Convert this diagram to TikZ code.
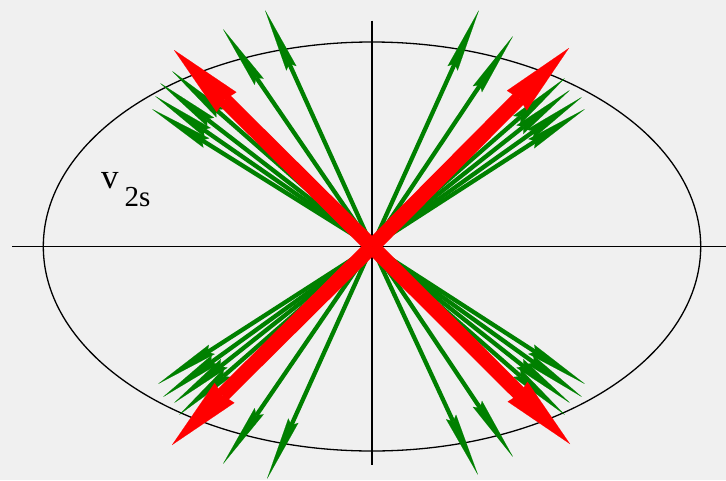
\documentclass[tikz,border=0pt]{standalone}
\usepackage{fontspec}
\setmainfont{Liberation Serif}
\usetikzlibrary{arrows.meta}
\definecolor{bgc}{RGB}{240,240,240}
\definecolor{grn}{RGB}{0,128,0}
\definecolor{rd}{RGB}{255,0,0}
\tikzset{
  axisline/.style={draw=black, line width=1.2pt},
  ellline/.style={draw=black, line width=1.3pt},
  greenarrow/.style={draw=grn, line width=4.3pt,
    -{Stealth[length=64pt, width=11pt, inset=5pt, line width=0.1pt]}},
  redarrow/.style={draw=rd, line width=15pt,
    -{Stealth[length=74pt, width=28pt, inset=3pt, line width=0.1pt]}},
}
\begin{document}
\begin{tikzpicture}[x=1pt, y=-1pt]
  \fill[bgc] (0,0) rectangle (726,480);
  \useasboundingbox (0,0) rectangle (726,480);
  \coordinate (O) at (372,246.5);
  % axes
  \coordinate (xl) at (12,246.5);
  \coordinate (xr) at (726,246.5);
  \coordinate (yt) at (372,20.5);
  \coordinate (yb) at (372,465);
  \draw[axisline] (xl) -- (xr);
  \draw[axisline] (yt) -- (yb);
  % ellipse
  \draw[ellline] (O) ellipse [x radius=328.7pt, y radius=204.5pt];
  % green arrows
  \foreach \n/\x/\y in {
    g1/265/10, g2/223/29, g3/172/71, g4/160/83, g5/155/96, g6/152/109,
    g7/479/10, g8/513/36, g9/565/78, g10/570/90, g11/582/97, g12/585/109,
    g13/158/384, g14/163/397, g15/174/403, g16/179/415, g17/223/464, g18/267/479,
    g19/585/384, g20/582/397, g21/570/403, g22/565/415, g23/513/457, g24/478/475}
  {
    \coordinate (\n) at (\x,\y);
    \draw[greenarrow] (O) -- (\n);
  }
  % red arrows
  \coordinate (r1) at (174,50);
  \coordinate (r2) at (569,48);
  \coordinate (r3) at (172,445);
  \coordinate (r4) at (570,444);
  \draw[redarrow] (O) -- (r1);
  \draw[redarrow] (O) -- (r2);
  \draw[redarrow] (O) -- (r3);
  \draw[redarrow] (O) -- (r4);
  % label
  \node[anchor=base west, inner sep=0pt] (lab) at (101,188.3)
    {\fontsize{35}{35}\selectfont v\kern6pt\raisebox{-18.4pt}{\fontsize{29}{29}\selectfont 2s}};
\end{tikzpicture}
\end{document}
